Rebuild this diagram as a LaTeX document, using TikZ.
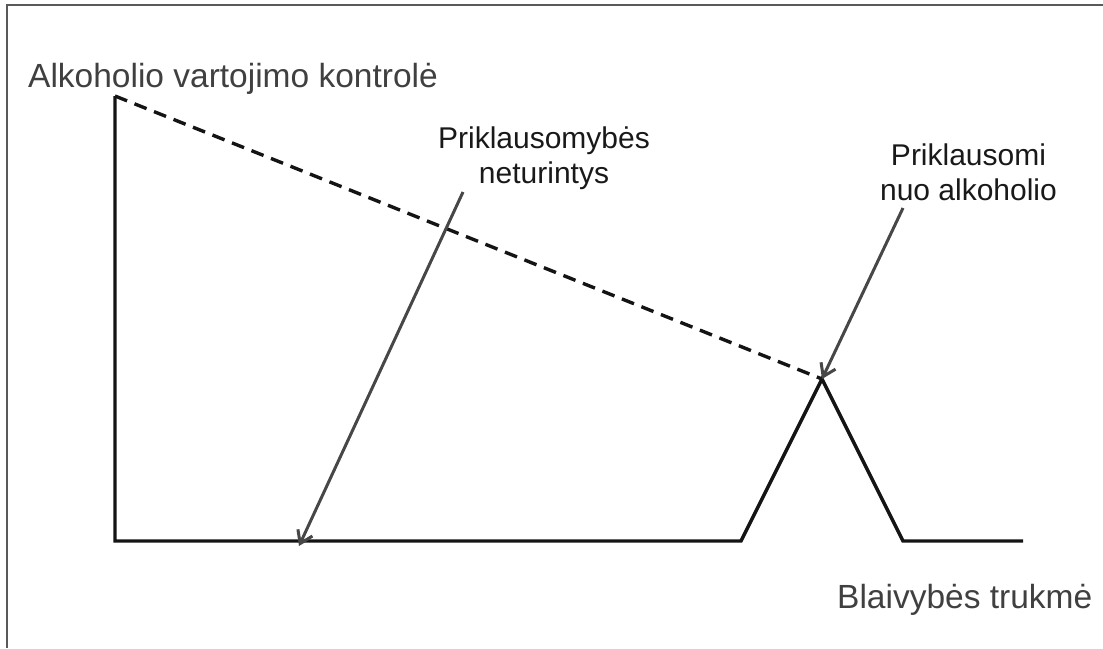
\documentclass[tikz,border=0pt]{standalone}
\usepackage{fontspec}
\setmainfont{Liberation Sans}
\usetikzlibrary{arrows.meta}
\begin{document}
\begin{tikzpicture}[x=1pt,y=-1pt,
  axisline/.style={line width=3.4pt,black!92},
  pointer/.style={line width=3pt,draw=black!72,-{Straight Barb[length=12pt,width=16pt,line width=3pt]}},
  axislabel/.style={font=\fontsize{33.5}{40}\selectfont,text=black!75,inner sep=0pt},
  notelabel/.style={font=\fontsize{30}{35}\selectfont,align=center,inner sep=0pt,text=black!90}]
\useasboundingbox (0,0) rectangle (1103,648);
% frame, only left and top edges show
\draw[line width=2pt,black!65] (7,648) -- (7,5) -- (1103,5);
% curve points
\coordinate (top) at (115,96);
\coordinate (origin) at (115,541);
\coordinate (rise) at (741,541);
\coordinate (peak) at (822,379);
\coordinate (fall) at (903,541);
\coordinate (end) at (1023,541);
\draw[axisline] (top) -- (origin) -- (rise) -- (peak) -- (fall) -- (end);
\draw[axisline,dash pattern=on 13pt off 8pt] (top) -- (peak);
% labels
\node[axislabel,anchor=base west] (ylabel) at (28,87) {Alkoholio vartojimo kontrolė};
\node[axislabel,anchor=base west] (xlabel) at (837,608) {Blaivybės trukmė};
\node[notelabel,anchor=north] (sober) at (544,126.5) {Priklausomybės\\neturintys};
\node[notelabel,anchor=north] (addicted) at (968.5,143.5) {Priklausomi\\nuo alkoholio};
% pointers
\coordinate (soberfrom) at (463,192);
\coordinate (soberto) at (299,546);
\coordinate (addictedfrom) at (903,208);
\draw[pointer] (soberfrom) -- (soberto);
\draw[pointer] (addictedfrom) -- (peak);
\end{tikzpicture}
\end{document}
